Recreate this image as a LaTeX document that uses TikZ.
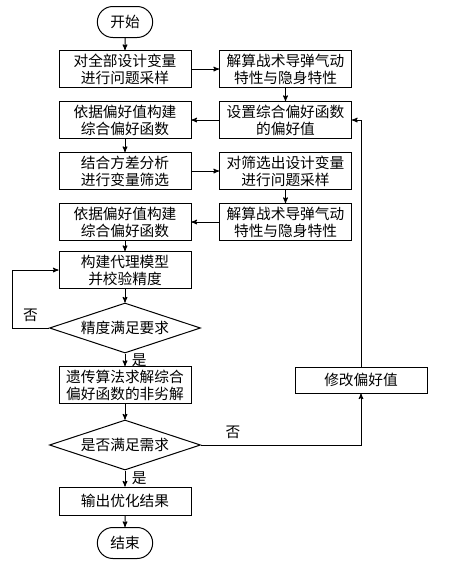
\documentclass[tikz,border=0pt]{standalone}
\usepackage{fontspec}
\newfontfamily\cjk{Noto Sans CJK SC}
\usetikzlibrary{shapes,arrows}

\begin{document}
\begin{tikzpicture}[x=1pt,y=-1pt,>=stealth',line width=1pt,
                    font=\cjk\fontsize{14.7}{17}\selectfont,
                    box/.style={draw,rectangle,minimum width=132pt,minimum height=37pt,inner sep=1pt,align=center},
                    term/.style={draw,rounded rectangle,minimum width=62pt,minimum height=31pt},
                    test/.style={draw,diamond,aspect=3,inner sep=0pt,minimum width=151pt,minimum height=50pt}]
\useasboundingbox (0,0) rectangle (449,566);
\node[term] (start) at (125,22) {开始};
\node[box] (sample) at (125,69) {对全部设计变量\\进行问题采样};
\node[box] (solve) at (285.5,69) {解算战术导弹气动\\特性与隐身特性};
\node[box] (pref) at (285.5,120) {设置综合偏好函数\\的偏好值};
\node[box] (build) at (125,120) {依据偏好值构建\\综合偏好函数};
\node[box] (anova) at (125,171) {结合方差分析\\进行变量筛选};
\node[box] (resample) at (285.5,171) {对筛选出设计变量\\进行问题采样};
\node[box] (resolve) at (285.5,222) {解算战术导弹气动\\特性与隐身特性};
\node[box] (rebuild) at (125,222) {依据偏好值构建\\综合偏好函数};
\node[box] (model) at (125,270) {构建代理模型\\并校验精度};
\node[test] (acc) at (125,328) {精度满足要求};
\node[box] (ga) at (125,385) {遗传算法求解综合\\偏好函数的非劣解};
\node[test] (need) at (125,445) {是否满足需求};
\node[box,minimum height=28pt] (out) at (125,501) {输出优化结果};
\node[term] (end) at (125,543) {结束};
\node[box,minimum height=26pt] (modify) at (361,380) {修改偏好值};
% main flow
\draw[->] (start) -- (sample);
\draw[->] (sample) -- (solve);
\draw[->] (solve) -- (pref);
\draw[->] (pref) -- (build);
\draw[->] (build) -- (anova);
\draw[->] (anova) -- (resample);
\draw[->] (resample) -- (resolve);
\draw[->] (resolve) -- (rebuild);
\draw[->] (rebuild) -- (model);
\draw[->] (model) -- (acc);
\draw[->] (acc) -- node[right=3pt]{是} (ga);
\draw[->] (acc.west) -- node[above=2pt]{否} ++(-37,0) |- (model.west);
\draw[->] (ga) -- (need);
\draw[->] (need) -- node[right=3pt]{是} (out);
\draw[->] (out) -- (end);
% loop back
\draw[->] (need.east) -| node[pos=0.1,above=2pt]{否} (modify.south);
\draw[->] (modify.north) |- (pref.east);
\end{tikzpicture}
\end{document}
